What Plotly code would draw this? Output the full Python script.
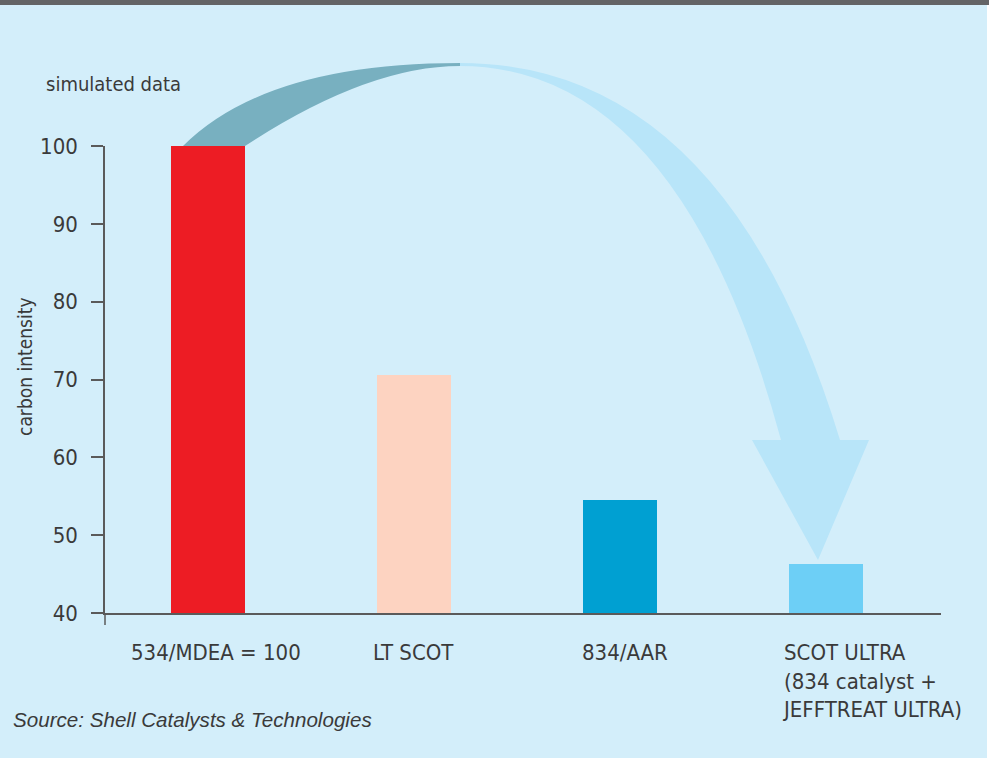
import plotly.graph_objects as go

# ---- data ----
categories = ["534/MDEA = 100", "LT SCOT", "834/AAR",
              "SCOT ULTRA<br>(834 catalyst +<br>JEFFTREAT ULTRA)"]
values = [100, 70.6, 54.5, 46.3]
bar_colors = ["#ed1c24", "#fdd3c1", "#00a0d2", "#6dcff6"]
y_ticks = [40, 50, 60, 70, 80, 90, 100]

# ---- layout geometry (pixels) ----
W, H = 989, 758
L, R, T, B = 105, 48, 146, 145
PW, PH = W - L - R, H - T - B
BG = "#d3eefa"
TXT = "#3a3a3a"
AX = "#5a5a5a"
FONT = "Liberation Sans Narrow, DejaVu Sans Condensed, Arial Narrow, sans-serif"
label_shift = [8, 0, 5, 0]


def px(x):
    return (x - L) / PW


def py(y):
    return (H - B - y) / PH


def pt(p):
    return f"{px(p[0]):.5f},{py(p[1]):.5f}"


def path(cmds):
    out = []
    for cmd, pts in cmds:
        out.append(cmd + " " + " ".join(pt(p) for p in pts))
    return " ".join(out) + " Z"


fig = go.Figure()
fig.add_trace(go.Bar(
    x=list(range(len(categories))), y=values,
    marker=dict(color=bar_colors, line=dict(width=0)),
    width=0.36, showlegend=False, hoverinfo="skip",
))

shapes = []
# dark part of the arrow
shapes.append(dict(type="path", xref="paper", yref="paper", layer="below",
                   path=path([("M", [(183, 146)]),
                              ("Q", [(266, 63), (460, 63)]),
                              ("L", [(460, 66)]),
                              ("Q", [(367, 66), (245, 146)])]),
                   fillcolor="#78b0c0", line=dict(width=0)))
# light part of the arrow
shapes.append(dict(type="path", xref="paper", yref="paper", layer="below",
                   path=path([("M", [(460, 63)]),
                              ("Q", [(725, 63), (840, 440)]),
                              ("L", [(869, 440)]),
                              ("L", [(818, 560)]),
                              ("L", [(752, 440)]),
                              ("L", [(781, 440)]),
                              ("Q", [(680, 66), (460, 66)])]),
                   fillcolor="#b8e5f9", line=dict(width=0)))
# top dark band
shapes.append(dict(type="rect", xref="paper", yref="paper",
                   x0=px(-5), x1=px(W + 5), y0=py(5), y1=py(-5),
                   fillcolor="#636466", line=dict(width=0)))
# right white strip
shapes.append(dict(type="rect", xref="paper", yref="paper",
                   x0=px(987), x1=px(W + 5), y0=py(H + 5), y1=py(5),
                   fillcolor="#ffffff", line=dict(width=0)))
# y-axis extension below the baseline
shapes.append(dict(type="line", xref="paper", yref="paper",
                   x0=0, x1=0, y0=0, y1=py(625),
                   line=dict(color=AX, width=1.5)))

annotations = []
for i, c in enumerate(categories):
    last = i == len(categories) - 1
    annotations.append(dict(
        x=(i - 0.22) if last else i, xref="x", xshift=label_shift[i],
        y=py(638), yref="paper",
        text=c, showarrow=False,
        xanchor="left" if last else "center", yanchor="top", align="left",
        font=dict(family=FONT, size=22, color=TXT)))

annotations.append(dict(x=px(44), y=py(84), xref="paper", yref="paper",
                        text="simulated data", showarrow=False,
                        xanchor="left", yanchor="middle",
                        font=dict(family=FONT, size=20, color=TXT)))
annotations.append(dict(x=px(25), y=py(367), xref="paper", yref="paper",
                        text="carbon intensity", showarrow=False, textangle=-90,
                        xanchor="center", yanchor="middle",
                        font=dict(family=FONT, size=19, color=TXT)))
annotations.append(dict(x=px(11), y=py(719), xref="paper", yref="paper",
                        text="<i>Source: Shell Catalysts &amp; Technologies</i>",
                        showarrow=False, xanchor="left", yanchor="middle",
                        font=dict(family="Liberation Sans, Arial, sans-serif",
                                  size=20.6, color=TXT)))

fig.update_layout(
    width=W, height=H, autosize=False,
    margin=dict(l=L, r=R, t=T, b=B, pad=0),
    paper_bgcolor=BG, plot_bgcolor=BG,
    shapes=shapes, annotations=annotations,
    bargap=0,
    xaxis=dict(range=[-0.5, 3.56], showgrid=False, zeroline=False,
               showline=True, linecolor=AX, linewidth=1.5,
               showticklabels=False, ticks="", fixedrange=True),
    yaxis=dict(range=[40, 100], tickvals=y_ticks, showgrid=False,
               zeroline=False, showline=True, linecolor=AX, linewidth=1.5,
               ticks="outside", ticklen=12, tickcolor=AX, tickwidth=1.5,
               ticklabelstandoff=9,
               tickfont=dict(family=FONT, size=22, color=TXT),
               fixedrange=True),
)

fig.write_html("out.html", config={"displayModeBar": False},
               post_script="document.body.style.margin='0';document.body.style.padding='0';")
